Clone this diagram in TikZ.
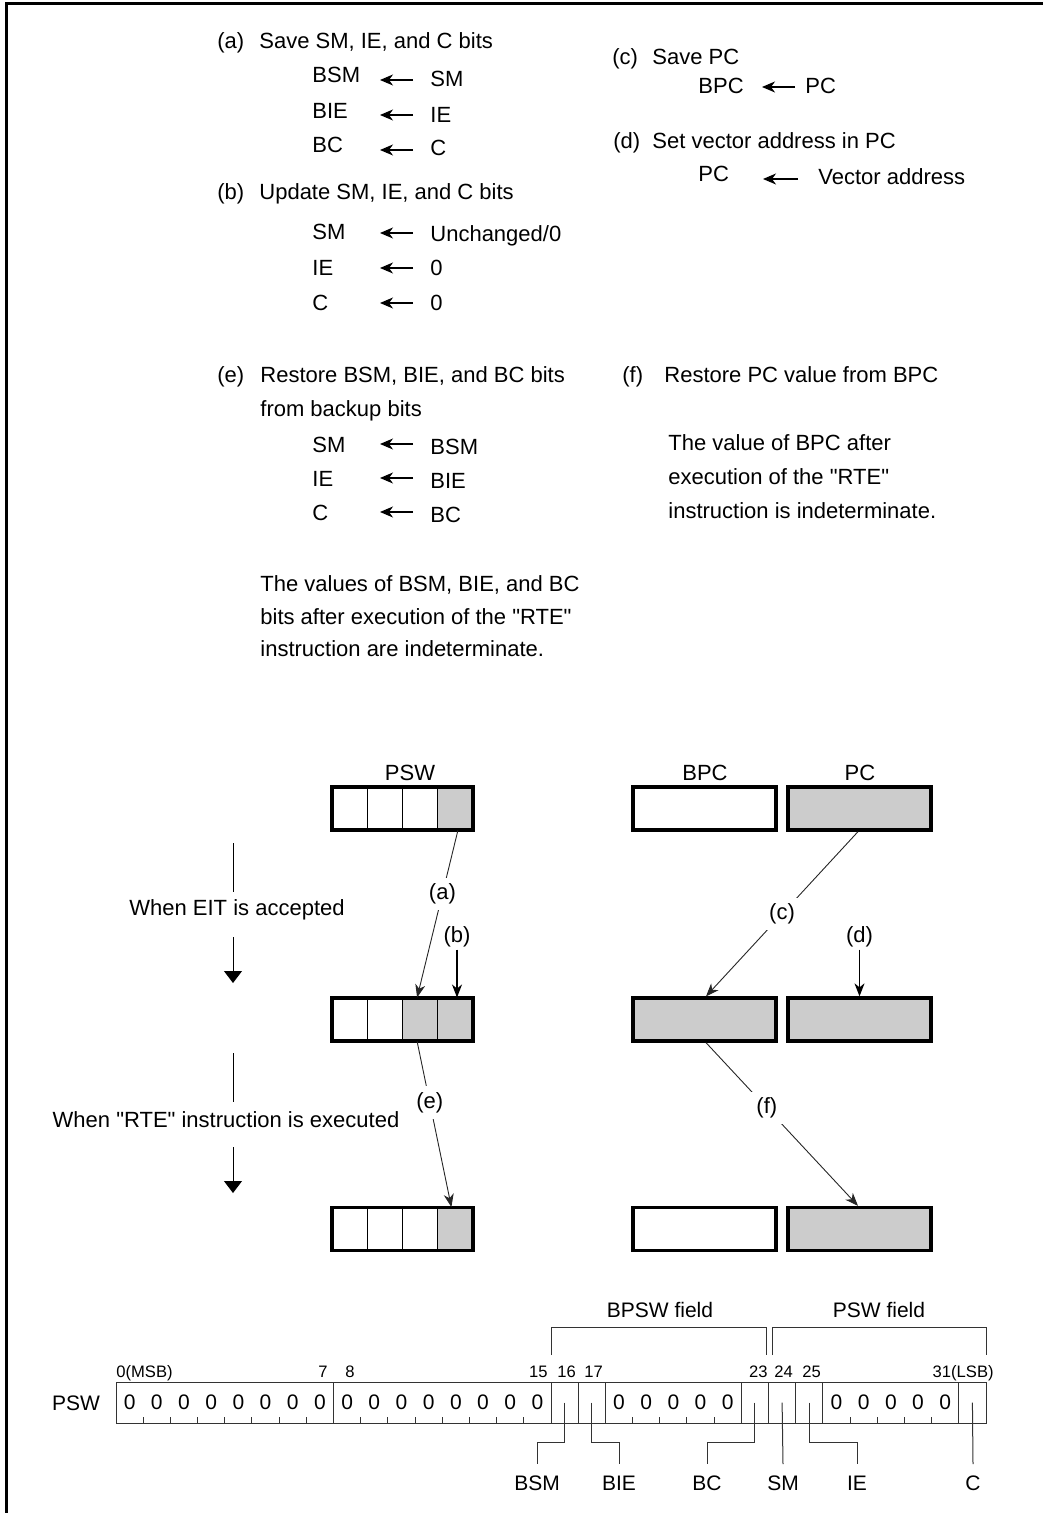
\documentclass[tikz,border=0pt]{standalone}
\usepackage{fontspec}
\setmainfont{Liberation Sans}[Ligatures=TeXOff]
\usetikzlibrary{arrows.meta,calc}
\newcommand\dq{\symbol{34}}
\begin{document}
\begin{tikzpicture}[x=0.5pt,y=-0.5pt,
  f11/.style={font=\fontsize{11}{13}\selectfont},
  fnum/.style={font=\fontsize{8.3}{10}\selectfont},
  freg/.style={font=\fontsize{10.5}{12}\selectfont},
  txt/.style={f11, anchor=base west, inner sep=0pt},
  ttl/.style={f11, anchor=center, inner sep=0pt},
  sarr/.style={line width=0.55pt, -{Stealth[length=6.5pt,width=5.5pt,inset=2pt]}},
  conn/.style={line width=0.45pt, draw=black!85, -{Stealth[length=6.5pt,width=5pt,inset=2pt]}},
  vconn/.style={line width=0.6pt, -{Stealth[length=6.5pt,width=5pt,inset=2pt]}},
  bigarr/.style={line width=0.5pt, -{Triangle[length=6pt,width=9pt]}},
  lab/.style={f11, fill=white, inner sep=3pt},
  cellw/.style={draw, line width=0.5pt, minimum width=17.625pt, minimum height=21.5pt, inner sep=0pt, fill=white},
  cellg/.style={cellw, fill=black!20},
  outl/.style={draw, line width=1.65pt, minimum width=70.5pt, minimum height=21.5pt, inner sep=0pt},
  regbox/.style={draw, line width=1.65pt, minimum width=71.5pt, minimum height=21.5pt, inner sep=0pt},
  reg/.style={line width=0.5pt, draw=black!80},
  bitcell/.style={minimum width=13.59pt, minimum height=20.5pt, inner sep=0pt}
]
\useasboundingbox (0,0) rectangle (1043,1513);
% frame
\draw[line width=1.5pt] (6,1513) -- (6,4) -- (1043,4);

% ---------- (a) ----------
\node[txt] (la) at (217,49) {(a)};
\node[txt] (ta) at (259,49) {Save SM, IE, and C bits};
\node[txt] (a1l) at (312,83) {BSM};
\node[txt] (a1r) at (430,87) {SM};
\node[txt] (a2l) at (312,119) {BIE};
\node[txt] (a2r) at (430,123) {IE};
\node[txt] (a3l) at (312,153) {BC};
\node[txt] (a3r) at (430,156) {C};
% ---------- (b) ----------
\node[txt] (lb) at (217,200) {(b)};
\node[txt] (tb) at (259,200) {Update SM, IE, and C bits};
\node[txt] (b1l) at (312,240) {SM};
\node[txt] (b1r) at (430,242) {Unchanged/0};
\node[txt] (b2l) at (312,276) {IE};
\node[txt] (b2r) at (430,276) {0};
\node[txt] (b3l) at (312,311) {C};
\node[txt] (b3r) at (430,311) {0};
% ---------- (c) ----------
\node[txt] (lc) at (612,65) {(c)};
\node[txt] (tc) at (652,65) {Save PC};
\node[txt] (c1l) at (698,94) {BPC};
\node[txt] (c1r) at (805,94) {PC};
% ---------- (d) ----------
\node[txt] (ld) at (613,149) {(d)};
\node[txt] (td) at (652,149) {Set vector address in PC};
\node[txt] (d1l) at (698,182) {PC};
\node[txt] (d1r) at (818,185) {Vector address};
% ---------- (e) ----------
\node[txt] (le) at (217,383) {(e)};
\node[txt] (te) at (260,383) {Restore BSM, BIE, and BC bits};
\node[txt] (te2) at (260,416) {from backup bits};
\node[txt] (e1l) at (312,452) {SM};
\node[txt] (e1r) at (430,454) {BSM};
\node[txt] (e2l) at (312,486) {IE};
\node[txt] (e2r) at (430,488) {BIE};
\node[txt] (e3l) at (312,520) {C};
\node[txt] (e3r) at (430,522) {BC};
\node[txt] (n1) at (260,591) {The values of BSM, BIE, and BC};
\node[txt] (n2) at (260,624) {bits after execution of the \dq RTE\dq};
\node[txt] (n3) at (260,656) {instruction are indeterminate.};
% ---------- (f) ----------
\node[txt] (lf) at (622,383) {(f)};
\node[txt] (tf) at (664,383) {Restore PC value from BPC};
\node[txt] (m1) at (668,451) {The value of BPC after};
\node[txt] (m2) at (668,484) {execution of the \dq RTE\dq};
\node[txt] (m3) at (668,518) {instruction is indeterminate.};

% assignment arrows
\foreach \n/\y in {a1/80,a2/115,a3/150,b1/233,b2/268,b3/303,e1/444,e2/478,e3/512} {
  \coordinate (\n s) at (413,\y);
  \coordinate (\n t) at (380,\y);
  \draw[sarr] (\n s) -- (\n t);
}
\coordinate (c1s) at (795,87); \coordinate (c1t) at (762,87);
\draw[sarr] (c1s) -- (c1t);
\coordinate (d1s) at (798,179); \coordinate (d1t) at (763,179);
\draw[sarr] (d1s) -- (d1t);

% ---------- diagram titles ----------
\node[ttl] (tpsw) at (410,773) {PSW};
\node[ttl] (tbpc) at (705,773) {BPC};
\node[ttl] (tpc) at (860,773) {PC};

% ---------- PSW boxes ----------
\foreach \r/\y/\ga/\gb/\gc/\gd in {1/808.5/cellw/cellw/cellw/cellg, 2/1019.5/cellw/cellw/cellg/cellg, 3/1229/cellw/cellw/cellw/cellg} {
  \node[\ga] (r\r c1) at ({332+0.5*35.25},\y) {};
  \node[\gb] (r\r c2) at ({332+1.5*35.25},\y) {};
  \node[\gc] (r\r c3) at ({332+2.5*35.25},\y) {};
  \node[\gd] (r\r c4) at ({332+3.5*35.25},\y) {};
  \node[outl] (psw\r) at (402.5,\y) {};
}
% ---------- BPC / PC boxes ----------
\node[regbox, fill=white] (bpc1) at (704.5,808.5) {};
\node[regbox, fill=black!20] (pc1) at (859.5,808.5) {};
\node[regbox, fill=black!20] (bpc2) at (704.5,1019.5) {};
\node[regbox, fill=black!20] (pc2) at (859.5,1019.5) {};
\node[regbox, fill=white] (bpc3) at (704.5,1229) {};
\node[regbox, fill=black!20] (pc3) at (859.5,1229) {};

% ---------- connectors ----------
\draw[conn] ($(r1c4.south)+(2.5,0)$) -- node[lab, pos=0.38] {(a)} ($(r2c3.north)+(-3,0)$);
\node[f11, inner sep=1pt] (lbb) at (457,937) {(b)};
\draw[vconn] (lbb.south) -- (lbb.south |- r2c4.north);
\draw[conn] ($(pc1.south)+(-1.5,0)$) -- node[lab, pos=0.5] {(c)} ($(bpc2.north)+(1.5,0)$);
\node[f11, inner sep=1pt] (ldd) at (859.5,937) {(d)};
\draw[vconn] (ldd.south) -- (ldd.south |- pc2.north);
\draw[conn] ($(r2c3.south)+(-3,0)$) -- node[lab, pos=0.37] {(e)} ($(r3c4.north)+(-4,0)$);
\draw[conn] ($(bpc2.south)+(1.5,0)$) -- node[lab, pos=0.4] {(f)} ($(pc3.north)+(-1.5,0)$);

% ---------- left phase arrows ----------
\coordinate (p1a) at (233,843); \coordinate (p1b) at (233,892);
\node[f11, inner sep=0pt] (eit) at (237,910) {When EIT is accepted};
\coordinate (p1c) at (233,937); \coordinate (p1d) at (233,983);
\draw[line width=0.5pt] (p1a) -- (p1b);
\draw[bigarr] (p1c) -- (p1d);
\coordinate (p2a) at (233,1053); \coordinate (p2b) at (233,1102);
\node[f11, inner sep=0pt] (rte) at (226,1120) {When \dq RTE\dq{} instruction is executed};
\coordinate (p2c) at (233,1147); \coordinate (p2d) at (233,1193);
\draw[line width=0.5pt] (p2a) -- (p2b);
\draw[bigarr] (p2c) -- (p2d);

% ---------- PSW register ----------
\def\cw{27.1875}
\foreach \i in {0,...,31} {
  \node[bitcell] (b\i) at ({116+(\i+0.5)*\cw},1402.5) {};
}
\foreach \i in {0,...,15} { \node[freg, inner sep=0pt] at (b\i) {0}; }
\foreach \i in {18,...,22} { \node[freg, inner sep=0pt] at (b\i) {0}; }
\foreach \i in {26,...,30} { \node[freg, inner sep=0pt] at (b\i) {0}; }
\draw[reg] (116,1382) rectangle (986,1423);
\foreach \k in {8,16,17,18,23,24,25,26,31} { \draw[reg] ({116+\k*\cw},1382) -- ({116+\k*\cw},1423); }
\foreach \k in {1,...,7} { \draw[reg] ({116+\k*\cw},1423) -- ({116+\k*\cw},1417); }
\foreach \k in {9,...,15} { \draw[reg] ({116+\k*\cw},1423) -- ({116+\k*\cw},1417); }
\foreach \k in {19,...,22} { \draw[reg] ({116+\k*\cw},1423) -- ({116+\k*\cw},1417); }
\foreach \k in {27,...,30} { \draw[reg] ({116+\k*\cw},1423) -- ({116+\k*\cw},1417); }
\node[freg, inner sep=0pt] (pswlab) at (76,1403) {PSW};

% bit numbers
\node[fnum, anchor=base west, inner sep=0pt] (n0) at (116,1377) {0(MSB)};
\node[fnum, anchor=base east, inner sep=0pt] (n7) at (328,1377) {7};
\node[fnum, anchor=base west, inner sep=0pt] (n8) at (345,1377) {8};
\node[fnum, anchor=base east, inner sep=0pt] (n15) at (548,1377) {15};
\node[fnum, anchor=base west, inner sep=0pt] (n16) at (557,1377) {16};
\node[fnum, anchor=base west, inner sep=0pt] (n17) at (584,1377) {17};
\node[fnum, anchor=base east, inner sep=0pt] (n23) at (768,1377) {23};
\node[fnum, anchor=base west, inner sep=0pt] (n24) at (774,1377) {24};
\node[fnum, anchor=base west, inner sep=0pt] (n25) at (802,1377) {25};
\node[fnum, anchor=base east, inner sep=0pt] (n31) at (994,1377) {31(LSB)};

% field brackets
\draw[reg] (551,1355) |- (766,1327) -- (766,1355);
\draw[reg] (772,1355) |- (986,1327) -- (986,1355);
\node[freg, inner sep=0pt] (fb) at (660,1310) {BPSW field};
\node[freg, inner sep=0pt] (fp) at (879,1310) {PSW field};

% leaders
\foreach \n/\x in {BSM/537, BIE/619, BC/707, SM/783, IE/857, C/973} {
  \coordinate (k\n) at (\x,1464);
  \node[freg, inner sep=0pt] (l\n) at (\x,1483) {\n};
}
\draw[reg] (b16.center) -- ++(0,40) -| (kBSM);
\draw[reg] (b17.center) -- ++(0,40) -| (kBIE);
\draw[reg] (b23.center) -- ++(0,40) -| (kBC);
\draw[reg] (b24.center) -- (kSM);
\draw[reg] (b25.center) -- ++(0,40) -| (kIE);
\draw[reg] (b31.center) -- (kC);
\end{tikzpicture}
\end{document}
